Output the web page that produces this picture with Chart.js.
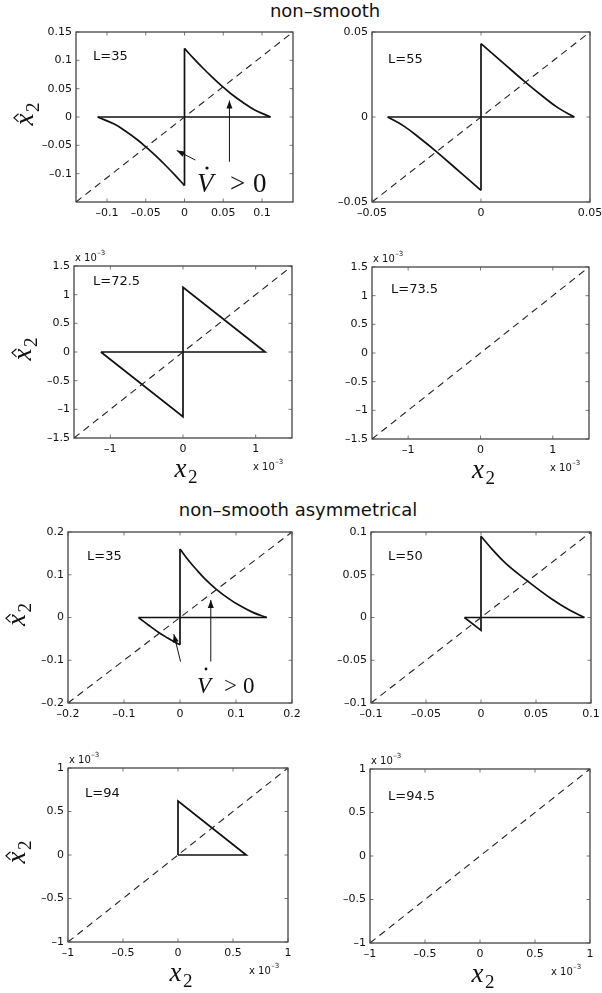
<!DOCTYPE html>
<html>
<head>
<meta charset="utf-8">
<script src="https://cdn.jsdelivr.net/npm/chart.js@4.4.1/dist/chart.umd.min.js"></script>
<style>
  html, body { margin: 0; padding: 0; background: #fff; overflow: hidden; }
  #page { position: relative; width: 602px; height: 993px; overflow: hidden; }
  #page canvas { position: absolute; }
  .title { position: absolute; font-family: "DejaVu Sans", sans-serif; font-size: 18px; line-height: 18px;
           text-align: center; color: #111; white-space: nowrap; }
</style>
</head>
<body>
<div id="page">
  <div class="title" style="left:225px; top:2px; width:200px">non–smooth</div>
  <div class="title" style="left:148px; top:501px; width:300px">non–smooth asymmetrical</div>
</div>
<script>
// ---- orbits (x2, x̂2); the x 10^-3 panels are kept in the units shown on the axes ----
// straight pieces are drawn as polylines, curved arcs are drawn smoothed
const edgesSym35 = [[[-0.112, 0], [0.111, 0]], [[0, 0.121], [0, -0.121]]];
const arcsSym35 = [
  [[0.111, 0], [0.090, 0.013], [0.075, 0.026], [0.060, 0.041], [0.048, 0.055],
   [0.036, 0.070], [0.024, 0.086], [0.012, 0.103], [0, 0.121]],
  [[0, -0.121], [-0.012, -0.103], [-0.024, -0.086], [-0.036, -0.070], [-0.048, -0.055],
   [-0.060, -0.041], [-0.075, -0.026], [-0.090, -0.013], [-0.112, 0]]
];
const arrowsSym35 = [
  [[0.014, -0.076], [-0.010, -0.059]],
  [[0.058, -0.079], [0.058, 0.029]]
];

const edgesSym55 = [[[-0.0428, 0], [0.0428, 0]], [[0, 0.0431], [0, -0.0431]]];
const arcsSym55 = [
  [[0.0428, 0], [0.0352, 0.0055], [0.028, 0.0125], [0.0206, 0.0202], [0.010, 0.032], [0, 0.0431]],
  [[0, -0.0431], [-0.010, -0.032], [-0.0206, -0.0202], [-0.028, -0.0125], [-0.0352, -0.0055], [-0.0428, 0]]
];

const edgesSym725 = [[[-1.13, 0], [1.13, 0], [0, 1.13], [0, -1.13], [-1.13, 0]]];

const edgesAsym35 = [[[-0.074, 0], [0.155, 0]], [[0, 0.160], [0, -0.064]]];
const arcsAsym35 = [
  [[0.155, 0], [0.130, 0.012], [0.105, 0.029], [0.085, 0.046], [0.065, 0.066],
   [0.045, 0.090], [0.030, 0.111], [0.015, 0.134], [0, 0.160]],
  [[0, -0.064], [-0.010, -0.057], [-0.022, -0.048], [-0.038, -0.035], [-0.056, -0.018], [-0.074, 0]]
];
const arrowsAsym35 = [
  [[0.001, -0.103], [-0.011, -0.039]],
  [[0.055, -0.103], [0.055, 0.041]]
];

const edgesAsym50 = [[[-0.015, 0], [0.094, 0]], [[0, 0.095], [0, -0.015], [-0.015, 0]]];
const arcsAsym50 = [
  [[0.094, 0], [0.080, 0.009], [0.065, 0.021], [0.042, 0.043], [0.0227, 0.063], [0.010, 0.080], [0, 0.095]]
];

const edgesAsym94 = [[[0, 0], [0.62, 0], [0, 0.62], [0, 0]]];

// ---- axis limits and ticks ----
const xLimSym35 = [-0.14, 0.14], yLimSym35 = [-0.15, 0.15];
const xTicksSym35 = [-0.1, -0.05, 0, 0.05, 0.1];
const yTicksSym35 = [-0.1, -0.05, 0, 0.05, 0.1, 0.15];
const limSym55 = [-0.05, 0.05], ticksSym55 = [-0.05, 0, 0.05];
const limSym72 = [-1.5, 1.5], xTicksSym72 = [-1, 0, 1];
const yTicksSym72 = [-1.5, -1, -0.5, 0, 0.5, 1, 1.5];
const limAsym35 = [-0.2, 0.2], ticksAsym35 = [-0.2, -0.1, 0, 0.1, 0.2];
const limAsym50 = [-0.1, 0.1], ticksAsym50 = [-0.1, -0.05, 0, 0.05, 0.1];
const limAsym94 = [-1, 1], ticksAsym94 = [-1, -0.5, 0, 0.5, 1];

const panels = [
  { label: 'L=35', edges: edgesSym35, arcs: arcsSym35, arrows: arrowsSym35, xLim: xLimSym35, yLim: yLimSym35,
    xTicks: xTicksSym35, yTicks: yTicksSym35, yTitle: true },
  { label: 'L=55', edges: edgesSym55, arcs: arcsSym55, xLim: limSym55, yLim: limSym55,
    xTicks: ticksSym55, yTicks: ticksSym55 },
  { label: 'L=72.5', edges: edgesSym725, xLim: limSym72, yLim: limSym72, xTicks: xTicksSym72,
    yTicks: yTicksSym72, yTitle: true, xTitle: true, scaled: true },
  { label: 'L=73.5', xLim: limSym72, yLim: limSym72, xTicks: xTicksSym72, yTicks: yTicksSym72,
    xTitle: true, scaled: true },
  { label: 'L=35', edges: edgesAsym35, arcs: arcsAsym35, arrows: arrowsAsym35, xLim: limAsym35, yLim: limAsym35,
    xTicks: ticksAsym35, yTicks: ticksAsym35, yTitle: true },
  { label: 'L=50', edges: edgesAsym50, arcs: arcsAsym50, xLim: limAsym50, yLim: limAsym50,
    xTicks: ticksAsym50, yTicks: ticksAsym50 },
  { label: 'L=94', edges: edgesAsym94, xLim: limAsym94, yLim: limAsym94, xTicks: ticksAsym94,
    yTicks: ticksAsym94, yTitle: true, xTitle: true, scaled: true },
  { label: 'L=94.5', xLim: limAsym94, yLim: limAsym94, xTicks: ticksAsym94, yTicks: ticksAsym94,
    xTitle: true, scaled: true }
];

// plot box on the page [left, top, right, bottom], canvas frame [left, top, width, height],
// offset of the L= tag inside the box, and placement of the "V̇ > 0" note
const layout = [
  { box: [76, 32, 293, 202], frame: [0, 20, 301, 225], tag: [17, 28],
    vdot: { size: 27, v: 121, gt: 154, zero: 177, base: 160, dot: [131, 136] } },
  { box: [372, 32, 590, 202], frame: [301, 20, 320, 225], tag: [16, 31] },
  { box: [74, 266, 292, 438], frame: [0, 245, 301, 250], tag: [19, 19] },
  { box: [372, 267, 589, 439], frame: [301, 245, 320, 250], tag: [19, 26] },
  { box: [68, 532, 292, 703], frame: [0, 524, 301, 221], tag: [19, 28],
    vdot: { size: 23, v: 129, gt: 156, zero: 175, base: 161, dot: [138, 137] } },
  { box: [371, 532, 591, 703], frame: [301, 524, 320, 221], tag: [17, 28] },
  { box: [68, 768, 288, 942], frame: [0, 745, 301, 248], tag: [17, 29] },
  { box: [370, 769, 590, 943], frame: [301, 745, 320, 248], tag: [18, 31] }
];

const SANS = '"DejaVu Sans", sans-serif';
const SERIF = '"Liberation Serif", "Times New Roman", serif';
const YW = 44, XH = 22;   // fixed room for tick labels
const INK = '#111';

const page = document.getElementById('page');
const toXY = pts => pts.map(([x, y]) => ({ x, y }));
const fmt = v => String(v).replace('-', '\u2013');

function axis(lim, ticks, dir) {
  return {
    type: 'linear',
    position: dir === 'x' ? 'bottom' : 'left',
    min: lim[0], max: lim[1],
    grid: { display: false, drawTicks: false },
    border: { display: false },
    afterBuildTicks: s => { s.ticks = ticks.map(value => ({ value })); },
    afterFit: s => {
      if (dir === 'x') s.height = XH; else s.width = YW;
      s.paddingLeft = s.paddingRight = s.paddingTop = s.paddingBottom = 0;
    },
    ticks: {
      font: { family: SANS, size: 11 }, color: INK,
      padding: dir === 'x' ? 5 : 4,
      maxRotation: 0, minRotation: 0, autoSkip: false,
      callback: v => fmt(v)
    }
  };
}

// italic x with subscript 2 (and a hat for the estimate), drawn from the baseline origin
const SUB_GAP = 1.5;
function mathWidth(ctx) {
  ctx.font = 'italic 27px ' + SERIF;
  const w = ctx.measureText('x').width;
  ctx.font = '19px ' + SERIF;
  return w + SUB_GAP + ctx.measureText('2').width;
}
function drawMathX(ctx, hat) {
  ctx.font = 'italic 27px ' + SERIF;
  ctx.fillText('x', 0, 0);
  const w = ctx.measureText('x').width;
  ctx.font = '19px ' + SERIF;
  ctx.fillText('2', w + SUB_GAP, 6);
  if (hat) {
    ctx.beginPath();
    ctx.moveTo(w * 0.3, -14.5);
    ctx.lineTo(w * 0.64, -19);
    ctx.lineTo(w * 0.98, -14.5);
    ctx.lineWidth = 1.2;
    ctx.stroke();
  }
}
function drawExp(ctx, x, y) {
  ctx.font = '10px ' + SANS;
  ctx.fillText('x 10', x, y);
  const w = ctx.measureText('x 10').width;
  ctx.font = '7px ' + SANS;
  ctx.fillText('\u20133', x + w + 0.5, y - 6);
}

function deco(p, lay) {
  return {
    id: 'deco',
    afterDatasetsDraw(chart) {
      const { ctx, chartArea: a, scales: { x, y } } = chart;
      ctx.save();
      // arrow heads
      ctx.fillStyle = INK;
      chart.data.datasets.forEach((ds, k) => {
        if (!ds.arrow) return;
        const pts = chart.getDatasetMeta(k).data;
        const tail = pts[0], tip = pts[pts.length - 1];
        const ang = Math.atan2(tip.y - tail.y, tip.x - tail.x);
        ctx.save();
        ctx.translate(tip.x, tip.y);
        ctx.rotate(ang);
        ctx.beginPath();
        ctx.moveTo(0, 0); ctx.lineTo(-8, -3); ctx.lineTo(-8, 3);
        ctx.closePath(); ctx.fill();
        ctx.restore();
      });
      // axes box
      ctx.strokeStyle = '#222';
      ctx.lineWidth = 1.1;
      ctx.strokeRect(a.left, a.top, a.right - a.left, a.bottom - a.top);
      // tick marks pointing into the box on all four sides
      const tl = 3.5;
      ctx.strokeStyle = '#555';
      ctx.lineWidth = 0.8;
      ctx.beginPath();
      x.ticks.forEach(t => {
        const px = x.getPixelForValue(t.value);
        ctx.moveTo(px, a.bottom); ctx.lineTo(px, a.bottom - tl);
        ctx.moveTo(px, a.top); ctx.lineTo(px, a.top + tl);
      });
      y.ticks.forEach(t => {
        const py = y.getPixelForValue(t.value);
        ctx.moveTo(a.left, py); ctx.lineTo(a.left + tl, py);
        ctx.moveTo(a.right, py); ctx.lineTo(a.right - tl, py);
      });
      ctx.stroke();
      ctx.restore();
    },
    afterDraw(chart) {
      const { ctx, chartArea: a } = chart;
      ctx.save();
      ctx.fillStyle = INK;
      ctx.strokeStyle = INK;
      ctx.textAlign = 'left';
      ctx.textBaseline = 'alphabetic';
      ctx.font = '13px ' + SANS;
      ctx.fillText(p.label, a.left + lay.tag[0], a.top + lay.tag[1]);
      if (p.scaled) {
        drawExp(ctx, a.left + 1, a.top - 5);
        drawExp(ctx, a.right - 39, a.bottom + 32);
      }
      if (p.xTitle) {
        const w = mathWidth(ctx);
        ctx.save();
        ctx.translate((a.left + a.right) / 2 + 3 - w / 2, a.bottom + 39);
        drawMathX(ctx, false);
        ctx.restore();
      }
      if (p.yTitle) {
        const w = mathWidth(ctx);
        ctx.save();
        ctx.translate(a.left - 43, (a.top + a.bottom) / 2 - 3);
        ctx.rotate(-Math.PI / 2);
        ctx.translate(-w / 2, 0);
        drawMathX(ctx, true);
        ctx.restore();
      }
      const v = lay.vdot;
      if (v) {
        ctx.font = 'italic ' + v.size + 'px ' + SERIF;
        ctx.fillText('V', a.left + v.v, a.top + v.base);
        ctx.font = v.size + 'px ' + SERIF;
        ctx.fillText('>', a.left + v.gt, a.top + v.base);
        ctx.fillText('0', a.left + v.zero, a.top + v.base);
        ctx.beginPath();
        ctx.arc(a.left + v.dot[0], a.top + v.dot[1], v.size * 0.06, 0, 2 * Math.PI);
        ctx.fill();
      }
      ctx.restore();
    }
  };
}

panels.forEach((p, i) => {
  const lay = layout[i];
  const [bl, bt, br, bb] = lay.box;
  const [fl, ft, fw, fh] = lay.frame;
  const cv = document.createElement('canvas');
  cv.width = fw;
  cv.height = fh;
  Object.assign(cv.style, { left: fl + 'px', top: ft + 'px', width: fw + 'px', height: fh + 'px' });
  page.appendChild(cv);

  // dashed diagonal from corner to corner
  const datasets = [{
    data: toXY([[p.xLim[0], p.yLim[0]], [p.xLim[1], p.yLim[1]]]),
    showLine: true, borderColor: '#222', borderWidth: 1.1, borderDash: [7, 5], pointRadius: 0
  }];
  (p.edges || []).forEach(e => {
    datasets.push({ data: toXY(e), showLine: true, borderColor: INK, borderWidth: 1.7, pointRadius: 0,
                    borderJoinStyle: 'miter' });
  });
  (p.arcs || []).forEach(c => {
    datasets.push({ data: toXY(c), showLine: true, borderColor: INK, borderWidth: 1.7, pointRadius: 0,
                    tension: 0.4 });
  });
  (p.arrows || []).forEach(arr => {
    datasets.push({ data: toXY(arr), showLine: true, borderColor: INK, borderWidth: 1, pointRadius: 0, arrow: true });
  });

  new Chart(cv, {
    type: 'scatter',
    data: { datasets },
    options: {
      responsive: false,
      animation: false,
      devicePixelRatio: 1,
      events: [],
      layout: { padding: { left: bl - fl - YW, top: bt - ft, right: fl + fw - br, bottom: ft + fh - bb - XH } },
      plugins: { legend: { display: false }, tooltip: { enabled: false } },
      scales: {
        x: axis(p.xLim, p.xTicks, 'x'),
        y: axis(p.yLim, p.yTicks, 'y')
      }
    },
    plugins: [deco(p, lay)]
  });
});
</script>
</body>
</html>
